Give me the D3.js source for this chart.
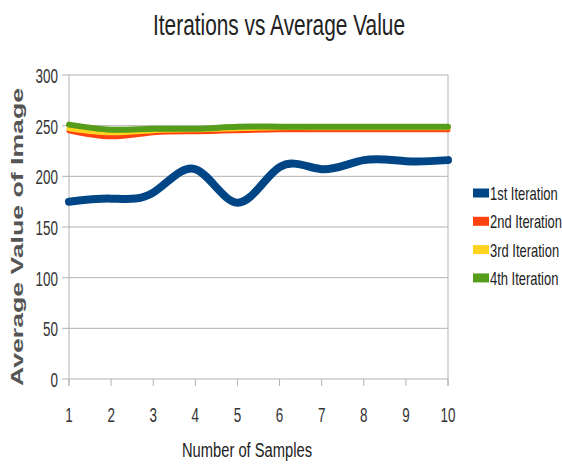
<!DOCTYPE html>
<html>
<head>
<meta charset="utf-8">
<script src="https://cdn.jsdelivr.net/npm/d3@7"></script>
<style>
  body { margin: 0; background: #fff; }
  text { font-family: "Liberation Sans", sans-serif; }
</style>
</head>
<body>
<svg width="562" height="466"></svg>
<script>
var samples = [1, 2, 3, 4, 5, 6, 7, 8, 9, 10]
var yTicks = [0, 50, 100, 150, 200, 250, 300]
var seriesNames = ["1st Iteration", "2nd Iteration", "3rd Iteration", "4th Iteration"]
var seriesColors = ["#004586", "#ff420e", "#ffd320", "#579d1c"]

var iter1 = [175, 178, 184, 207, 174, 209, 207, 216, 215, 216]
var iter2 = [245, 239, 243, 244, 245, 246, 246, 246, 246, 246]
var iter3 = [247, 243, 245, 246, 247, 248, 248, 248, 248, 248]
var iter4 = [251, 246, 247, 247, 249, 249, 249, 249, 249, 249]
var allSeries = [iter1, iter2, iter3, iter4]

var svg = d3.select("svg")

var margins = { top: 75, bottom: 87, left: 69, right: 114 }
var width = 562, height = 466
var squeeze = 0.64

var xScale = d3.scaleLinear()
  .domain([1, 10])
  .range([margins.left, width - margins.right])

var yScale = d3.scaleLinear()
  .domain([0, 300])
  .range([height - margins.bottom, margins.top])

// grid lines
svg.append("g")
  .selectAll("line")
  .data(yTicks)
  .enter()
  .append("line")
  .attr("x1", xScale(1) - 7)
  .attr("x2", xScale(10))
  .attr("y1", function(d) { return yScale(d) })
  .attr("y2", function(d) { return yScale(d) })
  .attr("stroke", "#b3b3b3")
  .attr("stroke-width", 1)

// left and right borders
svg.append("g")
  .selectAll("line")
  .data([1, 10])
  .enter()
  .append("line")
  .attr("x1", function(d) { return xScale(d) })
  .attr("x2", function(d) { return xScale(d) })
  .attr("y1", yScale(300))
  .attr("y2", yScale(0) + 7)
  .attr("stroke", "#b3b3b3")

// bottom ticks
svg.append("g")
  .selectAll("line")
  .data(samples)
  .enter()
  .append("line")
  .attr("x1", function(d) { return xScale(d) })
  .attr("x2", function(d) { return xScale(d) })
  .attr("y1", yScale(0))
  .attr("y2", yScale(0) + 7)
  .attr("stroke", "#b3b3b3")

// tick labels (narrowed like the original)
svg.append("g")
  .selectAll("text")
  .data(yTicks)
  .enter()
  .append("text")
  .attr("transform", function(d) {
    return "translate(" + (xScale(1) - 11) + "," + (yScale(d) + 8) + ") scale(" + squeeze + ",1)"
  })
  .attr("text-anchor", "end")
  .attr("font-size", 21)
  .attr("fill", "#333")
  .text(function(d) { return d })

svg.append("g")
  .selectAll("text")
  .data(samples)
  .enter()
  .append("text")
  .attr("transform", function(d) {
    return "translate(" + xScale(d) + "," + (yScale(0) + 43) + ") scale(" + squeeze + ",1)"
  })
  .attr("text-anchor", "middle")
  .attr("font-size", 21)
  .attr("fill", "#333")
  .text(function(d) { return d })

// lines
var drawLine = d3.line()
  .x(function(d, i) { return xScale(samples[i]) })
  .y(function(d) { return yScale(d) })
  .curve(d3.curveNatural)

var widths = [8, 5, 5, 6]
svg.append("g")
  .selectAll("path")
  .data(allSeries)
  .enter()
  .append("path")
  .attr("d", drawLine)
  .attr("fill", "none")
  .attr("stroke", function(d, i) { return seriesColors[i] })
  .attr("stroke-width", function(d, i) { return widths[i] })
  .attr("stroke-linecap", "round")

// legend
var legend = svg.append("g")
  .selectAll("g")
  .data(seriesNames)
  .enter()
  .append("g")
  .attr("transform", function(d, i) { return "translate(473," + (193 + i * 28.3) + ")" })

legend.append("rect")
  .attr("x", 0)
  .attr("y", -4.5)
  .attr("width", 16)
  .attr("height", 9)
  .attr("fill", function(d, i) { return seriesColors[i] })

legend.append("text")
  .attr("transform", "translate(17,7) scale(0.72,1)")
  .attr("font-size", 18)
  .attr("fill", "#222")
  .text(function(d) { return d })

// titles
svg.append("text")
  .attr("x", 279)
  .attr("y", 35)
  .attr("text-anchor", "middle")
  .attr("font-size", 29)
  .attr("fill", "#222")
  .attr("textLength", 252)
  .attr("lengthAdjust", "spacingAndGlyphs")
  .text("Iterations vs Average Value")

svg.append("text")
  .attr("x", 247)
  .attr("y", 457)
  .attr("text-anchor", "middle")
  .attr("font-size", 20)
  .attr("fill", "#222")
  .attr("textLength", 130)
  .attr("lengthAdjust", "spacingAndGlyphs")
  .text("Number of Samples")

svg.append("text")
  .attr("transform", "translate(23," + ((yScale(0) + yScale(300)) / 2 + 10) + ") rotate(-90)")
  .attr("text-anchor", "middle")
  .attr("font-size", 17)
  .attr("font-weight", "bold")
  .attr("fill", "#555")
  .attr("textLength", 298)
  .attr("lengthAdjust", "spacingAndGlyphs")
  .text("Average Value of Image")
</script>
</body>
</html>
